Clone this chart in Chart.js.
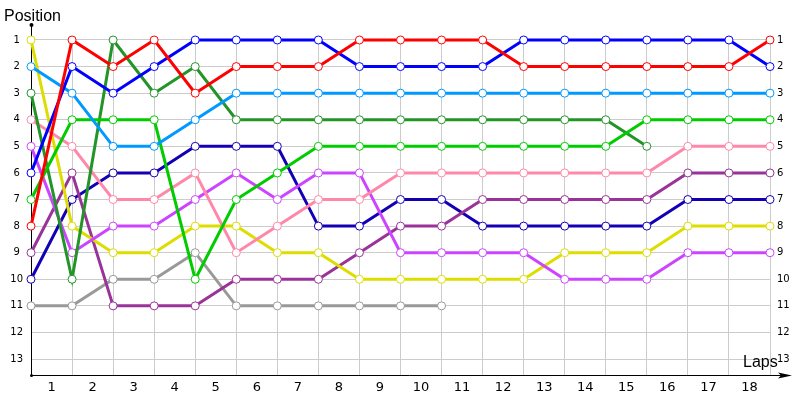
<!DOCTYPE html>
<html>
<head>
<meta charset="utf-8">
<script src="https://cdn.jsdelivr.net/npm/chart.js@4.4.1/dist/chart.umd.min.js"></script>
<style>
  html, body { margin: 0; padding: 0; background: #fff; }
  #wrap { width: 800px; height: 400px; position: relative; }
</style>
</head>
<body>
<div id="wrap"><canvas id="c"></canvas></div>
<script>
/* ===== DATA ===== */
// positions at each lap boundary (0 = start, 18 = finish)
const lapLabels = ["1","2","3","4","5","6","7","8","9","10","11","12","13","14","15","16","17","18"];
const positionTicks = [1,2,3,4,5,6,7,8,9,10,11,12,13];

const red       = [8,1,2,1,3,2,2,2,1,1,1,1,2,2,2,2,2,2,1];
const blue      = [6,2,3,2,1,1,1,1,2,2,2,2,1,1,1,1,1,1,2];
const lightBlue = [2,3,5,5,4,3,3,3,3,3,3,3,3,3,3,3,3,3,3];
const darkGreen = [3,10,1,3,2,4,4,4,4,4,4,4,4,4,4,5];
const green     = [7,4,4,4,10,7,6,5,5,5,5,5,5,5,5,4,4,4,4];
const pink      = [4,5,7,7,6,9,8,7,7,6,6,6,6,6,6,6,5,5,5];
const purple    = [9,6,11,11,11,10,10,10,9,8,8,7,7,7,7,7,6,6,6];
const navy      = [10,7,6,6,5,5,5,8,8,7,7,8,8,8,8,8,7,7,7];
const yellow    = [1,8,9,9,8,8,9,9,10,10,10,10,10,9,9,9,8,8,8];
const violet    = [5,9,8,8,7,6,7,6,6,9,9,9,9,10,10,10,9,9,9];
const gray      = [11,11,10,10,9,11,11,11,11,11,11];
/* ================ */

const series = [
  [red, "#ff0000"],
  [blue, "#0000ff"],
  [lightBlue, "#0099ff"],
  [green, "#00cc00"],
  [darkGreen, "#229428"],
  [pink, "#ff88aa"],
  [violet, "#cc44ff"],
  [yellow, "#dddd00"],
  [purple, "#993399"],
  [navy, "#1400b4"],
  [gray, "#999999"]
];

const FONT = "'DejaVu Sans', sans-serif";

// axis lines + arrow go under the lines, titles on top
const decor = {
  id: "decor",
  beforeDatasetsDraw(chart) {
    const ctx = chart.ctx;
    const a = chart.chartArea;
    ctx.save();
    ctx.strokeStyle = "#000";
    ctx.fillStyle = "#000";
    ctx.lineWidth = 1;
    ctx.beginPath();
    ctx.moveTo(a.left + 0.5, 25);
    ctx.lineTo(a.left + 0.5, a.bottom + 0.5);
    ctx.lineTo(787, a.bottom + 0.5);
    ctx.stroke();
    // arrow at the x end
    ctx.beginPath();
    ctx.moveTo(792, a.bottom + 0.5);
    ctx.lineTo(778, a.bottom - 2.5);
    ctx.lineTo(781, a.bottom + 0.5);
    ctx.lineTo(778, a.bottom + 3.5);
    ctx.closePath();
    ctx.fill();
    // dots
    ctx.beginPath();
    ctx.arc(a.left + 0.5, 25, 2, 0, Math.PI * 2);
    ctx.fill();
    ctx.beginPath();
    ctx.arc(a.left + 0.5, a.bottom + 0.5, 1.5, 0, Math.PI * 2);
    ctx.fill();
    ctx.restore();
  },
  afterDraw(chart) {
    const ctx = chart.ctx;
    ctx.save();
    ctx.fillStyle = "#000";
    ctx.font = "16px 'Liberation Sans', sans-serif";
    ctx.textBaseline = "alphabetic";
    ctx.textAlign = "left";
    ctx.fillText("Position", 4, 21);
    ctx.fillText("Laps", 743, 367);
    ctx.restore();
  }
};

const intTicks = (vals) => (scale) => {
  scale.ticks = vals.map((v) => ({ value: v }));
};

new Chart(document.getElementById("c"), {
  type: "line",
  data: {
    datasets: series.map(([vals, col]) => ({
      data: vals.map((v, i) => ({ x: i, y: v })),
      borderColor: col,
      backgroundColor: "#fff",
      borderWidth: 3,
      pointRadius: 4,
      pointBorderWidth: 1,
      pointBackgroundColor: "#fff",
      pointBorderColor: col,
      tension: 0,
      clip: false,
      xAxisID: "x",
      yAxisID: "y"
    }))
  },
  options: {
    responsive: true,
    maintainAspectRatio: false,
    animation: false,
    events: [],
    layout: { padding: { top: 36, left: 0, right: 0, bottom: 0 } },
    plugins: { legend: { display: false }, tooltip: { enabled: false } },
    scales: {
      x: {
        type: "linear",
        min: 0,
        max: 18,
        afterBuildTicks: intTicks(lapLabels.map((_, i) => i).concat([18])),
        ticks: { display: false },
        grid: { color: "#cccccc", drawTicks: false },
        border: { display: false },
        afterFit: (s) => { s.height = 0; }
      },
      xLab: {
        type: "linear",
        position: "bottom",
        min: 0,
        max: 18,
        afterBuildTicks: intTicks(lapLabels.map((_, i) => i + 0.5)),
        ticks: {
          color: "#000",
          font: { family: FONT, size: 13 },
          padding: 5,
          maxRotation: 0,
          autoSkip: false,
          callback: (v) => lapLabels[Math.floor(v)]
        },
        grid: { display: false, drawTicks: false },
        border: { display: false },
        afterFit: (s) => { s.height = 25; }
      },
      y: {
        type: "linear",
        reverse: true,
        min: 0.85,
        max: 13.6,
        afterBuildTicks: intTicks(positionTicks),
        ticks: {
          color: "#000",
          font: { family: FONT, size: 10 },
          padding: 8,
          crossAlign: "center"
        },
        grid: { color: "#cccccc", drawTicks: false },
        border: { display: false },
        afterFit: (s) => { s.width = 31; }
      },
      yR: {
        type: "linear",
        position: "right",
        reverse: true,
        min: 0.85,
        max: 13.6,
        afterBuildTicks: intTicks(positionTicks),
        ticks: {
          color: "#000",
          font: { family: FONT, size: 10 },
          padding: 7
        },
        grid: { display: false, drawTicks: false },
        border: { display: false },
        afterFit: (s) => { s.width = 30; }
      }
    }
  },
  plugins: [decor]
});
</script>
</body>
</html>
